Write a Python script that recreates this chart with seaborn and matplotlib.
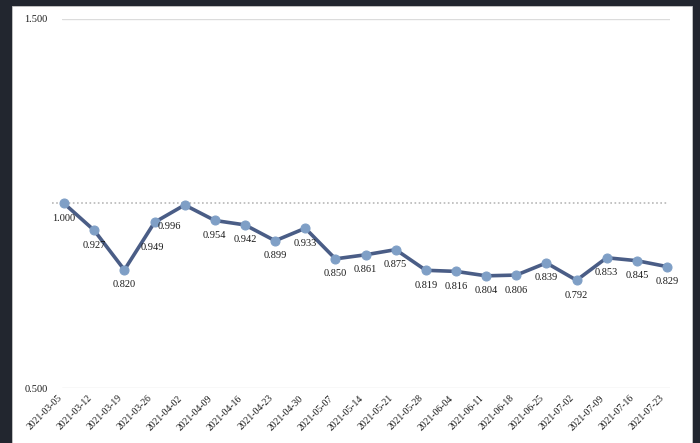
import matplotlib
matplotlib.use("Agg")
import matplotlib.pyplot as plt
import matplotlib.transforms as mtransforms
import seaborn as sns
import pandas as pd
from matplotlib.patches import Rectangle

dates = ["2021-03-05", "2021-03-12", "2021-03-19", "2021-03-26", "2021-04-02",
         "2021-04-09", "2021-04-16", "2021-04-23", "2021-04-30", "2021-05-07",
         "2021-05-14", "2021-05-21", "2021-05-28", "2021-06-04", "2021-06-11",
         "2021-06-18", "2021-06-25", "2021-07-02", "2021-07-09", "2021-07-16",
         "2021-07-23"]
values = [1.000, 0.927, 0.820, 0.949, 0.996, 0.954, 0.942, 0.899, 0.933, 0.850,
          0.861, 0.875, 0.819, 0.816, 0.804, 0.806, 0.839, 0.792, 0.853, 0.845,
          0.829]
y_ticks = [0.5, 1.5]
baseline = 1.0

df = pd.DataFrame({"pos": range(len(dates)), "value": values})

sns.set_theme(style="white")
plt.rcParams["font.family"] = ["Liberation Serif", "DejaVu Serif"]

fig = plt.figure(figsize=(7.0, 4.43), dpi=100, facecolor="#22262f")
# white panel inside the dark frame
panel = Rectangle((12 / 700, 0), 680 / 700, 437 / 443,
                  transform=fig.transFigure, facecolor="white",
                  edgecolor="#c8c8c8", linewidth=0.6, zorder=-5)
fig.add_artist(panel)

ax = fig.add_axes([62 / 700, 55 / 443, 608 / 700, 369 / 443])
ax.set_zorder(1)
ax.set_facecolor("none")
ax.patch.set_alpha(0)

for y in y_ticks:
    ax.axhline(y, color="#dcdcdc", lw=1.0, zorder=1)
ax.plot([-0.4, 20], [baseline, baseline], color="#b8b8b8", lw=1.2,
        ls=(0, (1, 1.5)), zorder=1, clip_on=False)

sns.lineplot(data=df, x="pos", y="value", ax=ax, color="#4a5d86", lw=2.6,
             marker="o", markersize=6.5, markerfacecolor="#7f9fc6",
             markeredgecolor="#7f9fc6", zorder=3, clip_on=False)

label_shift = {3: (-2, -25), 4: (-15, -22)}
for i, v in enumerate(values):
    dx, dy = label_shift.get(i, (0, -15))
    ax.annotate(f"{v:.3f}", (i, v), xytext=(dx, dy), textcoords="offset pixels",
                ha="center", va="center", fontsize=7.5, color="#1a1a1a")

ax.set_xlim(-0.07, 20.1)
ax.set_ylim(0.5, 1.5)
ax.set_yticks(y_ticks)
ax.set_yticklabels([f"{t:.3f}" for t in y_ticks], fontsize=7.5, color="#1a1a1a")
ax.set_xticks(range(len(dates)))
ax.set_xticklabels(dates, rotation=45, ha="right", rotation_mode="anchor",
                   fontsize=7, color="#1a1a1a")
ax.tick_params(axis="both", length=0)
ax.tick_params(axis="y", pad=10.5)
ax.tick_params(axis="x", pad=4)
shift = mtransforms.ScaledTranslation(-7 / 100, 0, fig.dpi_scale_trans)
for lbl in ax.get_xticklabels():
    lbl.set_transform(lbl.get_transform() + shift)
ax.set_xlabel("")
ax.set_ylabel("")
sns.despine(ax=ax, left=True, bottom=True)

fig.savefig("out.png", dpi=100, facecolor=fig.get_facecolor())
